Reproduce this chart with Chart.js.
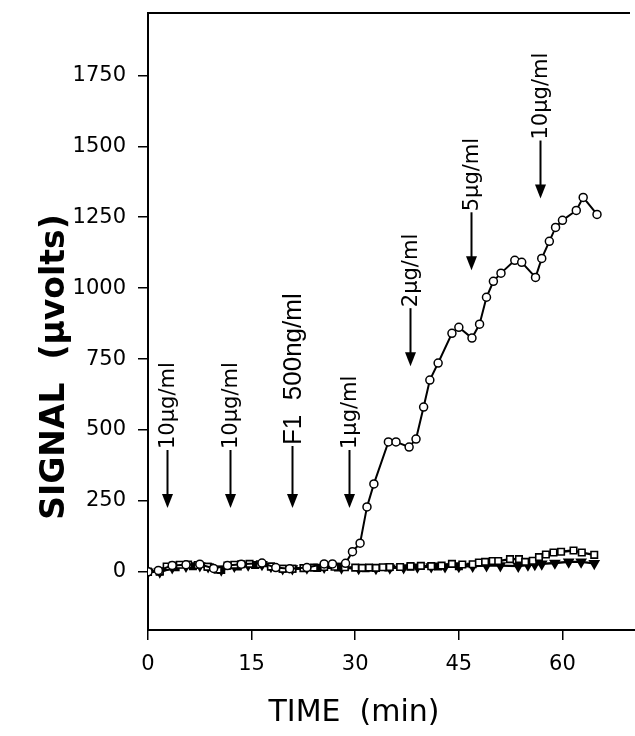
<!DOCTYPE html>
<html>
<head>
<meta charset="utf-8">
<script src="https://cdn.jsdelivr.net/npm/chart.js@4/dist/chart.umd.min.js"></script>
<style>
  html, body { margin: 0; padding: 0; background: #fff; }
  #wrap { width: 635px; height: 736px; }
</style>
</head>
<body>
<div id="wrap"><canvas id="myChart" width="635" height="736"></canvas></div>
<script>
// tick labels
const xTicks = [0, 15, 30, 45, 60];
const yTicks = [0, 250, 500, 750, 1000, 1250, 1500, 1750];

// open circles (responding cell)
const circleTime = [0, 1.5, 3.5, 5.5, 7.5, 9.5, 11.5, 13.5, 16.5, 18.5, 20.5, 23, 25.5, 26.7, 28.6,
    29.6, 30.7, 31.7, 32.7, 34.8, 35.9, 37.8, 38.8, 39.9, 40.8, 42.0, 44.0, 45.0, 46.9, 48.0,
    49.0, 50.0, 51.1, 53.1, 54.1, 56.1, 57.0, 58.1, 59.0, 60.0, 62.0, 63.0, 65.0];
const circleSignal = [0, 5, 22, 25, 27, 12, 22, 27, 31, 15, 11, 15, 28, 28, 30,
    71, 101, 229, 310, 458, 458, 440, 468, 581, 676, 736, 841, 862, 824, 873,
    968, 1024, 1053, 1098, 1091, 1038, 1105, 1165, 1214, 1239, 1274, 1320, 1260];

// open squares
const squareTime = [0, 1.7, 2.7, 3.6, 4.6, 5.8, 7.2, 8.6, 10.1, 11.5, 12.5, 13.5, 14.7, 16.2, 17.8,
    19.5, 20.9, 22.5, 24.0, 25.5, 27.0, 28.5, 30.0, 31.0, 32.0, 33.0, 34.0, 35.0, 36.5, 38.0,
    39.5, 41.0, 42.5, 44.0, 45.5, 47.0, 47.9, 48.8, 49.9, 50.7, 52.4, 53.7, 54.6, 55.7, 56.6,
    57.6, 58.7, 59.8, 61.6, 62.8, 64.6];
const squareSignal = [0, 2, 19, 22, 25, 26, 24, 18, 8, 22, 25, 27, 28, 27, 19,
    11, 11, 13, 15, 17, 18, 16, 15, 14, 15, 14, 16, 17, 17, 20,
    21, 20, 22, 28, 26, 27, 33, 35, 38, 38, 45, 45, 35, 39, 52,
    61, 68, 71, 75, 68, 60];

// filled triangles
const triTime = [0, 1.7, 3.5, 5.5, 7.5, 8.7, 10.6, 12.5, 14.5, 16.5, 17.8, 19.5, 20.9, 23.0, 25.5,
    28.0, 30.5, 33.0, 35.0, 37.0, 39.0, 41.0, 43.0, 45.0, 47.0, 49.0, 51.0, 53.6, 55.0, 56.0,
    57.0, 58.9, 60.9, 62.7, 64.6];
const triSignal = [0, 0, 15, 20, 22, 18, 7, 20, 24, 26, 19, 11, 11, 14, 16,
    14, 12, 12, 14, 15, 17, 18, 18, 19, 20, 22, 22, 20, 24, 26,
    28, 31, 35, 35, 30];

// filled squares
const fsqTime = [0, 1.7, 4.0, 6.5, 8.7, 10.6, 13.0, 15.5, 17.8, 19.5, 20.9, 24.5, 27.5, 31.5, 34.8, 38.0, 42.0, 45.0];
const fsqSignal = [0, 0, 16, 20, 18, 7, 19, 24, 19, 11, 11, 14, 15, 13, 15, 18, 19, 20];

// dose additions
const doseLabels = ['10μg/ml', '10μg/ml', 'F1  500ng/ml', '1μg/ml', '2μg/ml', '5μg/ml', '10μg/ml'];
const doseTime = [2.7, 11.8, 20.8, 29.1, 37.9, 46.7, 56.7];
const doseTip = [225, 225, 225, 225, 725, 1063, 1316];

const pts = (xs, ys) => xs.map((x, i) => ({ x: x, y: ys[i] }));

const sansFam = '"Liberation Sans", Arial, Helvetica, sans-serif';
const wideFam = '"DejaVu Sans", Verdana, sans-serif';

const extras = {
    id: 'extras',
    afterDatasetsDraw(chart) {
        const ctx = chart.ctx;
        const xs = chart.scales.x, ys = chart.scales.y;
        const area = chart.chartArea;
        ctx.save();
        ctx.strokeStyle = '#000';
        ctx.fillStyle = '#000';

        // top frame line
        ctx.lineWidth = 2;
        ctx.beginPath();
        ctx.moveTo(area.left, area.top);
        ctx.lineTo(area.right - 5, area.top);
        ctx.stroke();

        // arrows + dose labels
        doseLabels.forEach((label, i) => {
            const px = Math.round(xs.getPixelForValue(doseTime[i])) + 0.5;
            const tip = ys.getPixelForValue(doseTip[i]);
            const big = label.startsWith('F1');
            const top = tip - (big ? 62 : 58);
            ctx.lineWidth = 2;
            ctx.beginPath();
            ctx.moveTo(px, top);
            ctx.lineTo(px, tip - 10);
            ctx.stroke();
            ctx.beginPath();
            ctx.moveTo(px - 5.5, tip - 14);
            ctx.lineTo(px + 5.5, tip - 14);
            ctx.lineTo(px, tip);
            ctx.closePath();
            ctx.fill();

            ctx.save();
            ctx.translate(px, top - 1);
            ctx.rotate(-Math.PI / 2);
            ctx.font = big ? '26px ' + sansFam : '21px ' + wideFam;
            ctx.textAlign = 'left';
            ctx.textBaseline = 'middle';
            ctx.fillText(label, 0, 1);
            ctx.restore();
        });

        // axis titles
        ctx.save();
        ctx.translate(55, 367);
        ctx.rotate(-Math.PI / 2);
        ctx.font = 'bold 33px ' + wideFam;
        ctx.textAlign = 'center';
        ctx.textBaseline = 'middle';
        ctx.fillText('SIGNAL  (μvolts)', 0, 0);
        ctx.restore();

        ctx.font = '30px ' + wideFam;
        ctx.textAlign = 'center';
        ctx.textBaseline = 'middle';
        ctx.fillText('TIME  (min)', 354, 713);
        ctx.restore();
    }
};

const ctx = document.getElementById('myChart').getContext('2d');
const myChart = new Chart(ctx, {
    type: 'scatter',
    data: {
        datasets: [
            {
                label: 'circles',
                data: pts(circleTime, circleSignal),
                showLine: true,
                borderColor: '#000',
                borderWidth: 2,
                pointStyle: 'circle',
                pointRadius: 4,
                pointBorderWidth: 1.5,
                pointBackgroundColor: '#fff',
                pointBorderColor: '#000',
                order: 0
            },
            {
                label: 'open squares',
                data: pts(squareTime, squareSignal),
                showLine: true,
                borderColor: '#000',
                borderWidth: 2.4,
                pointStyle: 'rect',
                pointRadius: 4.6,
                pointBorderWidth: 1.6,
                pointBackgroundColor: '#fff',
                pointBorderColor: '#000',
                order: 1
            },
            {
                label: 'triangles',
                data: pts(triTime, triSignal),
                showLine: true,
                borderColor: '#000',
                borderWidth: 2.4,
                pointStyle: 'triangle',
                rotation: 180,
                pointRadius: 4.4,
                pointBackgroundColor: '#000',
                pointBorderColor: '#000',
                order: 2
            },
            {
                label: 'filled squares',
                data: pts(fsqTime, fsqSignal),
                showLine: true,
                borderColor: '#000',
                borderWidth: 2.4,
                pointStyle: 'rect',
                pointRadius: 4,
                pointBackgroundColor: '#000',
                pointBorderColor: '#000',
                order: 3
            }
        ]
    },
    options: {
        responsive: false,
        animation: false,
        layout: { autoPadding: false, padding: { top: 13, right: 0, left: 0, bottom: 0 } },
        plugins: {
            legend: { display: false },
            tooltip: { enabled: false }
        },
        scales: {
            x: {
                type: 'linear',
                min: 0,
                max: 70.5,
                afterBuildTicks: (scale) => { scale.ticks = xTicks.map(v => ({ value: v })); },
                afterFit: (scale) => { scale.height = 106; scale.paddingLeft = 0; scale.paddingRight = 0; },
                grid: { drawOnChartArea: false, drawTicks: true, tickLength: 10, color: '#000', lineWidth: 1.5 },
                border: { display: true, color: '#000', width: 2 },
                ticks: { color: '#000', padding: 12, maxRotation: 0, font: { family: wideFam, size: 21 } }
            },
            y: {
                type: 'linear',
                min: -205,
                max: 1970,
                afterBuildTicks: (scale) => { scale.ticks = yTicks.map(v => ({ value: v })); },
                afterFit: (scale) => { scale.width = 148; scale.paddingTop = 0; scale.paddingBottom = 0; },
                grid: { drawOnChartArea: false, drawTicks: true, tickLength: 10, color: '#000', lineWidth: 1.5 },
                border: { display: true, color: '#000', width: 2 },
                ticks: {
                    color: '#000',
                    padding: 12,
                    font: { family: wideFam, size: 21 },
                    callback: (v) => String(v)
                }
            }
        }
    },
    plugins: [extras]
});
</script>
</body>
</html>
